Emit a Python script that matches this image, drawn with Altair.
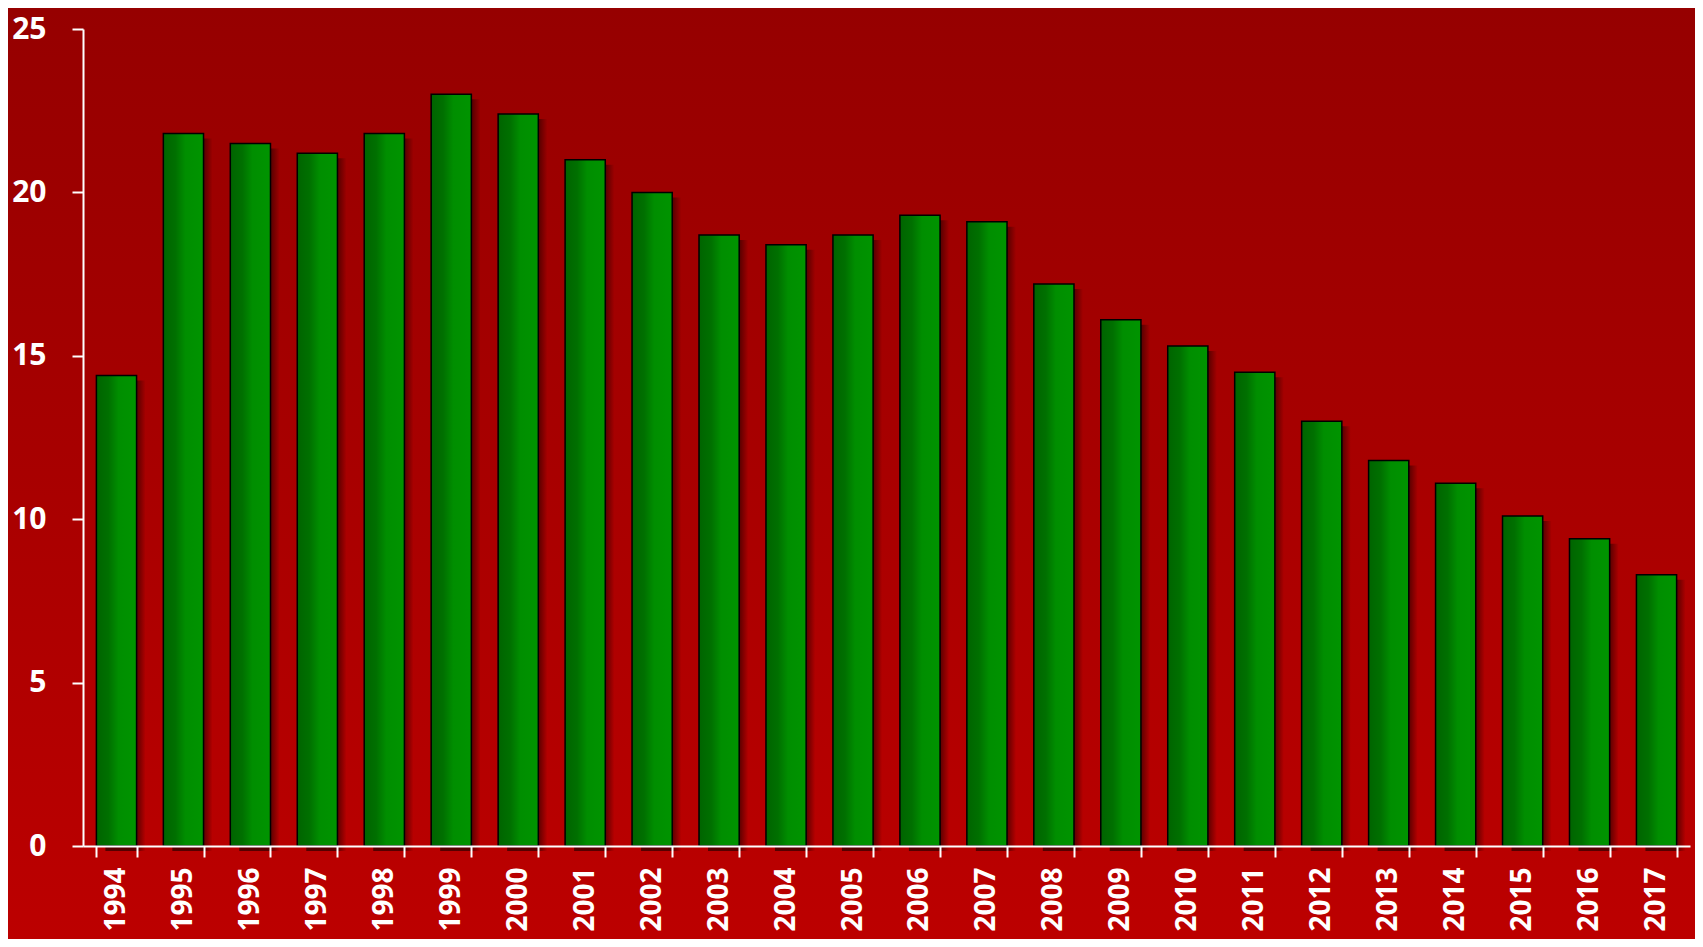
import altair as alt
import pandas as pd

years = [str(y) for y in range(1994, 2018)]
values = [14.4, 21.8, 21.5, 21.2, 21.8, 23.0, 22.4, 21.0, 20.0, 18.7, 18.4, 18.7,
          19.3, 19.1, 17.2, 16.1, 15.3, 14.5, 13.0, 11.8, 11.1, 10.1, 9.4, 8.3]
y_ticks = [0, 5, 10, 15, 20, 25]

df = pd.DataFrame({"year": years, "value": values})

W, H = 1607, 817
PL, PT, PR, PB = 75, 21, 5, 93

FONT = "Open Sans"

bg = alt.Chart(pd.DataFrame({"k": [0]})).mark_rect(
    fill=alt.Gradient(
        gradient="linear", x1=0, x2=0, y1=0, y2=1,
        stops=[alt.GradientStop(color="#960000", offset=0),
               alt.GradientStop(color="#a80000", offset=0.5),
               alt.GradientStop(color="#bc0000", offset=1)],
    )
).encode(x=alt.value(-PL), x2=alt.value(W + PR), y=alt.value(-PT), y2=alt.value(H + PB))

x_enc = alt.X(
    "year:N",
    sort=years,
    scale=alt.Scale(paddingInner=0.4, paddingOuter=0.2),
    axis=alt.Axis(
        title=None, labelAngle=-90, labelFont=FONT, labelFontWeight="bold",
        labelFontSize=28, labelColor="white", domainColor="white", domainWidth=2,
        tickColor="white", tickWidth=2, tickSize=11, tickBand="extent",
        labelPadding=10, labelOverlap=False, zindex=1,
    ),
)
y_enc = alt.Y(
    "value:Q",
    scale=alt.Scale(domain=[0, 25], nice=False),
    axis=alt.Axis(
        title=None, values=y_ticks, grid=False, labelFont=FONT, labelFontWeight="bold",
        labelFontSize=30, labelColor="white", domainColor="white", domainWidth=2,
        tickColor="white", tickWidth=2, tickSize=11, labelPadding=26, zindex=1,
    ),
)

shadow = alt.Chart(df).mark_bar(
    xOffset=9, x2Offset=9, yOffset=5,
    fill=alt.Gradient(
        gradient="linear", x1=0, x2=1, y1=0, y2=0,
        stops=[alt.GradientStop(color="rgba(60,0,0,0.8)", offset=0),
               alt.GradientStop(color="rgba(60,0,0,0.8)", offset=0.76),
               alt.GradientStop(color="rgba(60,0,0,0)", offset=1)],
    ),
).encode(x=x_enc, y=y_enc)

bars = alt.Chart(df).mark_bar(
    stroke="black", strokeWidth=1.5,
    fill=alt.Gradient(
        gradient="linear", x1=0, x2=1, y1=0, y2=0,
        stops=[alt.GradientStop(color="#006400", offset=0),
               alt.GradientStop(color="#007000", offset=0.3),
               alt.GradientStop(color="#008e00", offset=0.55),
               alt.GradientStop(color="#009400", offset=1)],
    ),
).encode(x=x_enc, y=y_enc)

chart = alt.layer(bg, shadow, bars).properties(
    width=W, height=H,
    autosize=alt.AutoSizeParams(type="none"),
    padding={"left": PL, "top": PT, "right": PR, "bottom": PB},
).configure(background="#bb0000").configure_view(strokeWidth=0)

chart.save("out.html", embed_options={"renderer": "svg", "actions": False})
